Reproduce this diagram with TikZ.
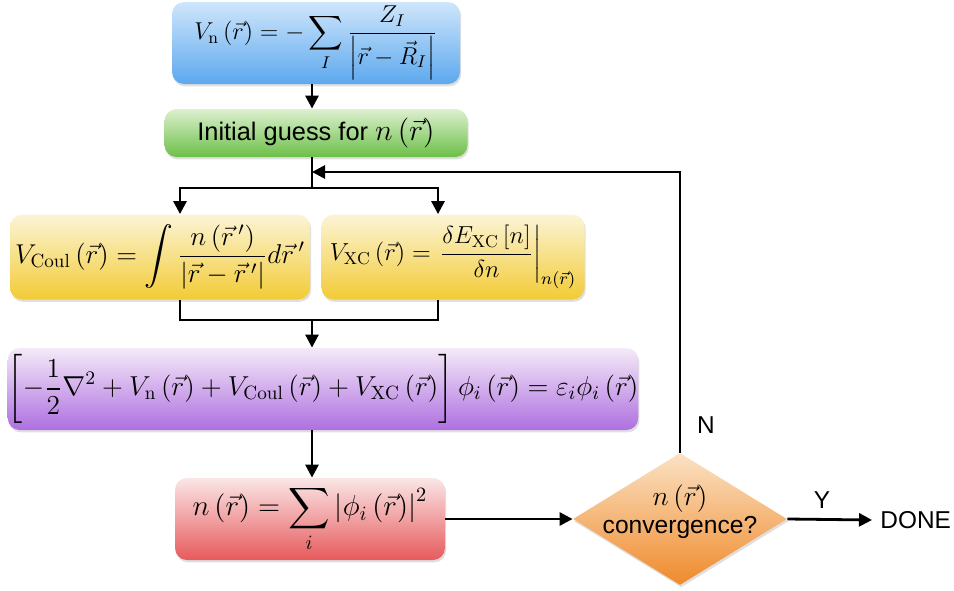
\RequirePackage{fix-cm}
\documentclass[tikz,border=0pt]{standalone}
\usepackage{amsmath}
\usepackage{fontspec}
\newfontfamily\guisans{Liberation Sans}
\usetikzlibrary{arrows.meta,shapes.geometric,shadows,calc}
\definecolor{blueT}{HTML}{CFE6FB}
\definecolor{blueB}{HTML}{5CA8EE}
\definecolor{greenT}{HTML}{DDF0CF}
\definecolor{greenB}{HTML}{6CBF48}
\definecolor{yellowT}{HTML}{FCF4D6}
\definecolor{yellowB}{HTML}{F2CB35}
\definecolor{purpleT}{HTML}{F4EAF8}
\definecolor{purpleB}{HTML}{AE6FE0}
\definecolor{redT}{HTML}{FBE6E6}
\definecolor{redB}{HTML}{E65A5C}
\definecolor{orangeT}{HTML}{FBE2C4}
\definecolor{orangeB}{HTML}{EF8A2C}
\tikzset{
  box/.style={rounded corners=6pt, inner sep=0pt, align=center,
    drop shadow={shadow xshift=0.6pt, shadow yshift=-1.2pt, opacity=0.25}},
  decision/.style={diamond, inner sep=0pt, minimum width=107pt, minimum height=66pt,
    shading=axis, top color=orangeT, bottom color=orangeB,
    drop shadow={shadow xshift=0.6pt, shadow yshift=-1.2pt, opacity=0.25}},
  arr/.style={line width=1.4pt, -{Triangle[length=6.5pt,width=6.5pt]}},
  ln/.style={line width=1.4pt},
  lbl/.style={font=\guisans\fontsize{12.2}{15}\selectfont, inner sep=0pt}
}
\begin{document}
\begin{tikzpicture}[x=0.5pt,y=-0.5pt]
\useasboundingbox (0,0) rectangle (954,590);
% boxes
\node[box, minimum width=144pt, minimum height=41pt, top color=blueT, bottom color=blueB, font=\fontsize{12.2}{15}\selectfont]
  (vn) at (316,43) {$\displaystyle V_{\mathrm{n}}\left(\vec r\right) = -\sum_I \frac{Z_I}{\left|\vec r-\vec R_I\right|}$};
\node[box, minimum width=151.5pt, minimum height=24pt, top color=greenT, bottom color=greenB]
  (guess) at (316,133) {\guisans\fontsize{12.7}{15}\selectfont Initial guess for \fontsize{15}{18}\selectfont$n\left(\vec r\right)$};
\node[box, minimum width=150pt, minimum height=42.5pt, top color=yellowT, bottom color=yellowB, font=\fontsize{13.6}{16}\selectfont]
  (coul) at (160,257) {$\displaystyle V_{\mathrm{Coul}}\left(\vec r\right) = \int \frac{n\left(\vec r\,'\right)}{\left|\vec r-\vec r\,'\right|}d\vec r\,'$};
\node[box, minimum width=131.5pt, minimum height=42.5pt, top color=yellowT, bottom color=yellowB, font=\fontsize{12.3}{15}\selectfont]
  (xc) at (453,257) {$\displaystyle V_{\mathrm{XC}}\left(\vec r\right) = \left.\frac{\delta E_{\mathrm{XC}}\left[n\right]}{\delta n}\right|_{n(\vec r)}$};
\node[box, minimum width=315pt, minimum height=41pt, top color=purpleT, bottom color=purpleB, font=\fontsize{13.7}{16}\selectfont]
  (ks) at (323,389) {$\displaystyle \left[-\frac{1}{2}\nabla^2+V_{\mathrm{n}}\left(\vec r\right)+V_{\mathrm{Coul}}\left(\vec r\right)+V_{\mathrm{XC}}\left(\vec r\right)\right]\phi_i\left(\vec r\right)=\varepsilon_i\phi_i\left(\vec r\right)$};
\node[box, minimum width=135pt, minimum height=41pt, top color=redT, bottom color=redB, font=\fontsize{14.5}{17}\selectfont]
  (dens) at (310,519) {$\displaystyle n\left(\vec r\right) = \sum_i \left|\phi_i\left(\vec r\right)\right|^2$};
\node[decision] (conv) at (680,519) {};
\node[align=center, inner sep=0pt] (convtext) at (680,512)
  {\fontsize{13.8}{17}\selectfont$n\left(\vec r\right)$\\[1pt]\guisans\fontsize{12.3}{15}\selectfont convergence?};
\node[lbl, anchor=west] (done) at (880,520) {DONE};
\node[lbl] (nlab) at (706,425) {N};
\node[lbl] (ylab) at (822,500) {Y};
% connectors
\coordinate (split) at (312,188);
\coordinate (merge) at (312,320);
\coordinate (loopin) at (312,172);
\draw[arr] (vn.south -| 312,0) -- (guess.north -| 312,0);
\draw[ln] (guess.south -| 312,0) -- (split);
\draw[arr] (split) -| ([xshift=10pt]coul.north);
\draw[arr] (split) -| ([xshift=-7.5pt]xc.north);
\draw[ln] ([xshift=10pt]coul.south) |- (merge);
\draw[ln] ([xshift=-7.5pt]xc.south) |- (merge);
\draw[arr] (merge) -- (merge |- ks.north);
\draw[arr] (ks.south -| 312,0) -- (dens.north -| 312,0);
\draw[arr] (dens.east) -- (conv.west);
\draw[arr] (conv.east) -- ([xshift=-4pt]done.west);
\draw[arr] (conv.north) |- (loopin);
\end{tikzpicture}
\end{document}
